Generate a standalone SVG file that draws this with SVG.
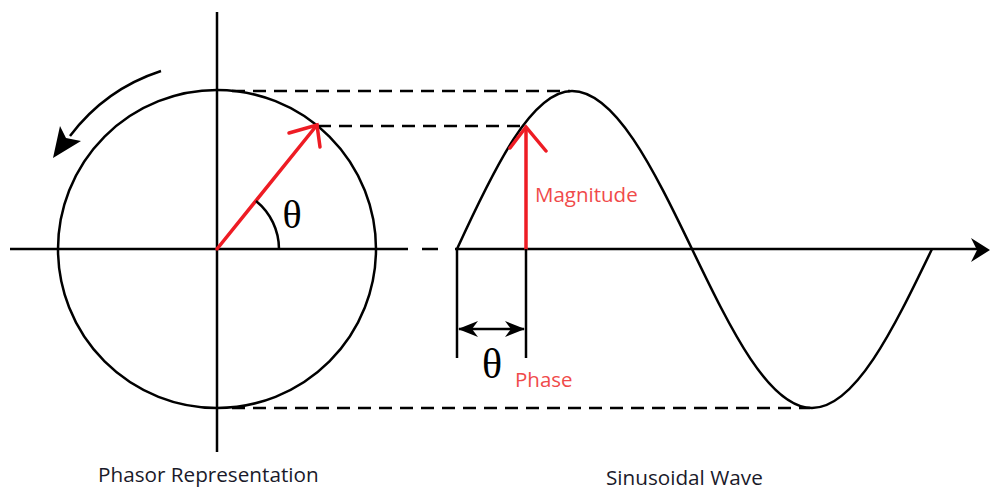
<svg xmlns="http://www.w3.org/2000/svg" width="990" height="490" viewBox="0 0 990 490">
<defs>
<style>
.k{stroke:#000;stroke-width:2.5;fill:none}
.d{stroke:#000;stroke-width:2.5;fill:none;stroke-dasharray:13 8}
.r{stroke:#ee1c24;stroke-width:3.5;fill:none;stroke-linecap:round}
.lbl{font-family:"Open Sans","Liberation Sans",sans-serif;font-size:20.7px;fill:#1a1a2a}
.red{font-family:"Open Sans","Liberation Sans",sans-serif;font-size:20.5px;fill:#f04a4a}
.th{font-family:"Liberation Serif","DejaVu Serif",serif;fill:#000}
</style>
<marker id="dh" viewBox="0 0 20 16" refX="19" refY="8" markerWidth="20" markerHeight="16" markerUnits="userSpaceOnUse" orient="auto-start-reverse">
<path d="M0,0 L20,8 L0,16 L6,8 Z" fill="#000"/>
</marker>
</defs>
<rect width="990" height="490" fill="#fff"/>
<g id="connectors">
<line class="k" x1="217" y1="12" x2="217" y2="452"/>
<line class="k" x1="10" y1="249" x2="408" y2="249"/>
<line class="k" x1="422" y1="249" x2="438" y2="249"/>
<line class="k" x1="455" y1="249" x2="978" y2="249"/>
<path d="M990,250 L971,238 L977,250 L971,262 Z" fill="#000"/>
<line class="d" x1="232" y1="91" x2="570" y2="91"/>
<line class="d" x1="318" y1="126" x2="526" y2="126"/>
<line class="d" x1="232" y1="408" x2="810" y2="408"/>
</g>
<g id="phasor-circle">
<circle class="k" cx="217" cy="249" r="159"/>
</g>
<g id="rotation-arrow">
<path class="k" d="M161,71 A186,186 0 0 0 70,136" stroke-width="3"/>
<path d="M53,158 L60,126 L66,138 L81,141 Z" fill="#000"/>
</g>
<g id="phasor">
<line class="r" x1="217" y1="249" x2="317" y2="125"/>
<polyline class="r" points="289,133 317,125 320,147"/>
<path class="k" d="M279,249 A62,62 0 0 0 256,201"/>
<text class="th" x="292" y="228" font-size="40" text-anchor="middle">θ</text>
</g>
<g id="sine-wave">
<path class="k" d="M457,249 C495,166 532,91 572,91 C615,91 653,168 692,249 C731,330 769,408 812,408 C855,408 893,330 932,249"/>
</g>
<g id="magnitude">
<line class="r" x1="526" y1="249" x2="526" y2="128"/>
<polyline class="r" points="510,148 526,127 546,151"/>
<text class="red" x="535" y="202">Magnitude</text>
</g>
<g id="phase">
<line class="k" x1="457" y1="249" x2="457" y2="358"/>
<line class="k" x1="526" y1="249" x2="526" y2="358"/>
<line class="k" x1="459" y1="329" x2="524" y2="329" marker-start="url(#dh)" marker-end="url(#dh)"/>
<text class="th" x="492" y="378" font-size="42" text-anchor="middle">θ</text>
<text class="red" x="515" y="387" font-size="20">Phase</text>
</g>
<g id="labels">
<text class="lbl" x="98" y="482">Phasor Representation</text>
<text class="lbl" x="606" y="485">Sinusoidal Wave</text>
</g>
</svg>
